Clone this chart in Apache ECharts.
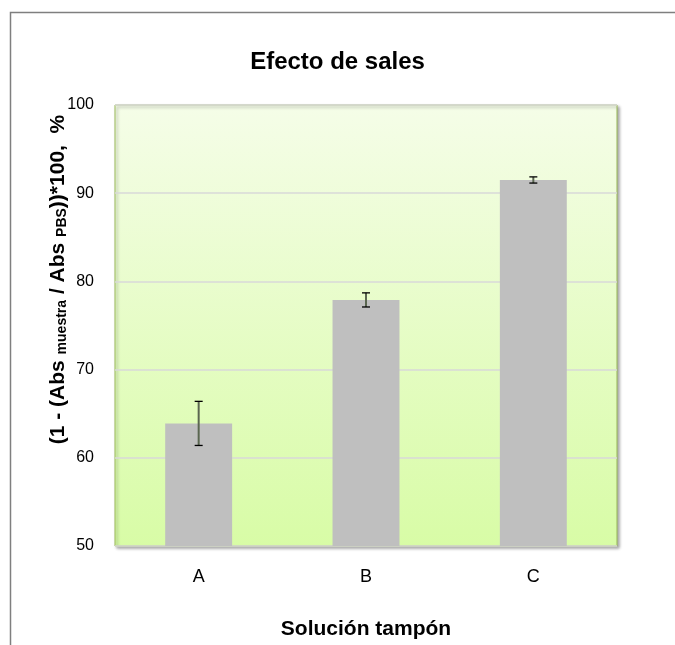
<!DOCTYPE html>
<html>
<head>
<meta charset="utf-8">
<script src="https://cdn.jsdelivr.net/npm/echarts@6/dist/echarts.min.js"></script>
<style>
  html, body { margin: 0; padding: 0; background: #fff; }
  #main { width: 675px; height: 645px; }
</style>
</head>
<body>
<div id="main"></div>
<script>
// datos
const categories = ["A", "B", "C"];
const values = [63.9, 77.9, 91.5];
const errors = [2.5, 0.8, 0.35];
const yTicks = [50, 60, 70, 80, 90, 100];

const myChart = echarts.init(document.getElementById("main"));

const errorData = categories.map(function (c, i) {
  return [i, values[i] - errors[i], values[i] + errors[i]];
});

const option = {
  animation: false,
  backgroundColor: "#fff",
  title: {
    text: "Efecto de sales",
    left: "center",
    top: 45,
    textStyle: {
      fontFamily: "Liberation Sans, Arial, sans-serif",
      fontSize: 24,
      fontWeight: "bold",
      color: "#000",
    },
  },
  graphic: [
    {
      type: "polyline",
      shape: { points: [[10.5, 660], [10.5, 12.5], [700, 12.5]] },
      style: { stroke: "#7f7f7f", lineWidth: 1.5, fill: null },
      silent: true,
    },
  ],
  grid: {
    left: 115,
    top: 105,
    right: 58,
    bottom: 98,
    show: true,
    backgroundColor: new echarts.graphic.LinearGradient(0, 0, 0, 1, [
      { offset: 0, color: "#f5fde8" },
      { offset: 1, color: "#d8fca6" },
    ]),
    borderColor: "#9bbb59",
    borderWidth: 1,
    shadowColor: "rgba(0,0,0,0.35)",
    shadowBlur: 3,
    shadowOffsetX: 2,
    shadowOffsetY: 2,
  },
  xAxis: {
    type: "category",
    data: categories,
    name: "Solución tampón",
    nameLocation: "middle",
    nameGap: 73,
    nameTextStyle: {
      fontFamily: "Liberation Sans, Arial, sans-serif",
      fontSize: 21,
      fontWeight: "bold",
      color: "#000",
    },
    axisLine: { show: false },
    axisTick: { show: false },
    axisLabel: {
      margin: 22,
      fontFamily: "Liberation Sans, Arial, sans-serif",
      fontSize: 18,
      color: "#000",
    },
  },
  yAxis: {
    type: "value",
    min: yTicks[0],
    max: yTicks[yTicks.length - 1],
    interval: 10,
    name:
      "{b|(1 - (Abs }{s|muestra}{b| / Abs }{s|PBS}{b|))*100,  %}",
    nameLocation: "middle",
    nameRotate: 90,
    nameGap: 46,
    nameMoveOverlap: false,
    nameTextStyle: {
      padding: [0, 0, 0, 92],
      rich: {
        b: {
          fontFamily: "Liberation Sans, Arial, sans-serif",
          fontSize: 21,
          fontWeight: "bold",
          color: "#000",
          verticalAlign: "bottom",
          lineHeight: 24,
        },
        s: {
          fontFamily: "Liberation Sans, Arial, sans-serif",
          fontSize: 14,
          fontWeight: "bold",
          color: "#000",
          verticalAlign: "bottom",
          lineHeight: 19,
        },
      },
    },
    axisLine: { show: false },
    axisTick: { show: false },
    splitLine: { lineStyle: { color: "#d9d9d9", width: 1.5 } },
    axisLabel: {
      margin: 21,
      fontFamily: "Liberation Sans, Arial, sans-serif",
      fontSize: 16,
      color: "#000",
    },
  },
  series: [
    {
      type: "bar",
      data: values,
      barWidth: "40%",
      itemStyle: { color: "#bfbfbf" },
      silent: true,
    },
    {
      type: "custom",
      data: errorData,
      silent: true,
      z: 5,
      renderItem: function (params, api) {
        const x = api.value(0);
        const lo = api.coord([x, api.value(1)]);
        const hi = api.coord([x, api.value(2)]);
        const w = 4;
        const st = { stroke: "#000", lineWidth: 1.3 };
        return {
          type: "group",
          children: [
            { type: "line", shape: { x1: hi[0], y1: hi[1], x2: lo[0], y2: lo[1] }, style: { stroke: "#5a6650", lineWidth: 2 } },
            { type: "line", shape: { x1: hi[0] - w, y1: hi[1], x2: hi[0] + w, y2: hi[1] }, style: st },
            { type: "line", shape: { x1: lo[0] - w, y1: lo[1], x2: lo[0] + w, y2: lo[1] }, style: st },
          ],
        };
      },
    },
  ],
};

myChart.setOption(option);
</script>
</body>
</html>
